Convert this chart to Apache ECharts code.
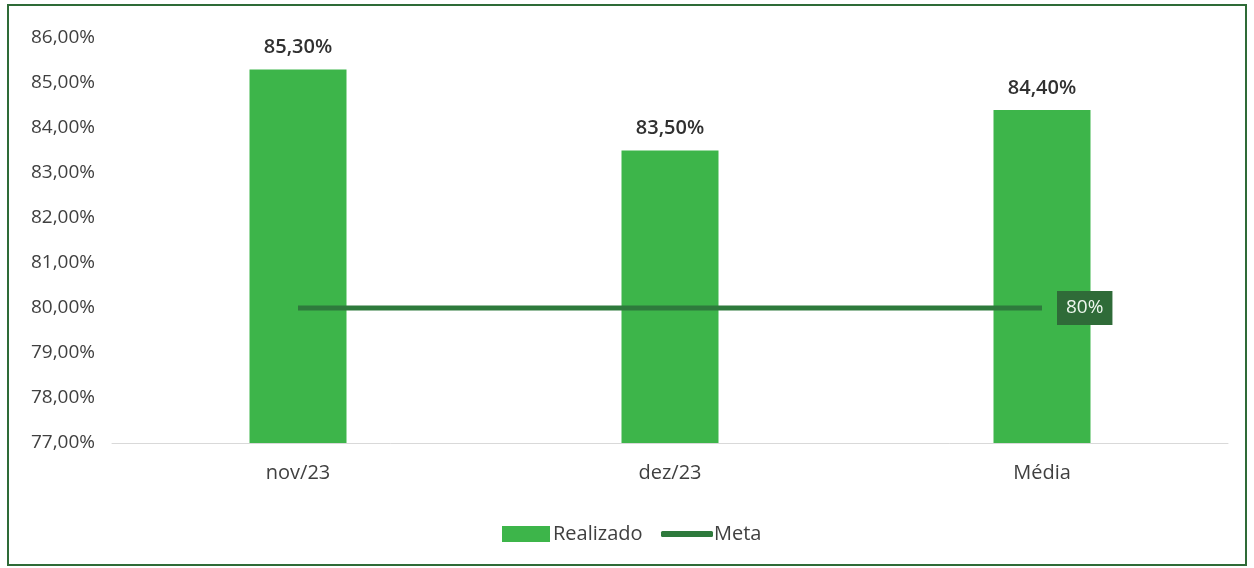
<!DOCTYPE html>
<html>
<head>
<meta charset="utf-8">
<script src="https://cdn.jsdelivr.net/npm/echarts@6/dist/echarts.min.js"></script>
<style>
  html, body { margin: 0; padding: 0; background: #fff; }
  #chart { width: 1254px; height: 568px; }
</style>
</head>
<body>
<div id="chart"></div>
<script>
const categories = ['nov/23', 'dez/23', 'Média'];
const realizado = [85.3, 83.5, 84.4];
const meta = [80, 80, 80];

const fmt = v => v.toFixed(2).replace('.', ',') + '%';
const font = '"Open Sans", sans-serif';

let chart = echarts.init(document.getElementById('chart'));
let option = {
  backgroundColor: '#fff',
  textStyle: { fontFamily: font },
  grid: { left: 112, right: 26, top: 38, bottom: 125 },
  legend: [
    {
      left: 497,
      top: 519,
      itemGap: 0,
      itemWidth: 48,
      itemHeight: 16,
      textStyle: { fontSize: 20, color: '#404040', fontFamily: font, padding: [0, 0, 0, -2] },
      data: [{ name: 'Realizado', icon: 'rect' }]
    },
    {
      left: 656,
      top: 519,
      itemWidth: 52,
      itemHeight: 6,
      textStyle: { fontSize: 20, color: '#404040', fontFamily: font, padding: [0, 0, 0, -4] },
      data: [{ name: 'Meta', icon: 'roundRect' }]
    }
  ],
  xAxis: {
    type: 'category',
    data: categories,
    axisLine: { lineStyle: { color: '#d9d9d9', width: 1 } },
    axisTick: { show: false },
    axisLabel: { fontSize: 20, color: '#404040', margin: 20, fontFamily: font }
  },
  yAxis: {
    type: 'value',
    min: 77,
    max: 86,
    interval: 1,
    splitLine: { show: false },
    axisLine: { show: false },
    axisTick: { show: false },
    axisLabel: { fontSize: 19, color: '#404040', formatter: fmt, margin: 17, fontFamily: font }
  },
  series: [
    {
      name: 'Realizado',
      type: 'bar',
      data: realizado,
      barWidth: 97,
      itemStyle: { color: '#3db54a' },
      label: {
        show: true,
        position: 'top',
        distance: 12,
        fontSize: 20,
        fontWeight: 600,
        color: '#303030',
        formatter: p => fmt(p.value)
      }
    },
    {
      name: 'Meta',
      type: 'line',
      data: meta,
      symbol: 'none',
      lineStyle: { color: '#2e7a3c', width: 5 },
      itemStyle: { color: '#2e7a3c' },
      endLabel: {
        show: true,
        formatter: p => p.value + '%',
        backgroundColor: '#2f6b38',
        color: '#eef7ee',
        fontSize: 19,
        padding: [8, 9, 7, 9],
        distance: 15
      }
    }
  ],
  graphic: [
    {
      type: 'rect',
      shape: { x: 8, y: 5, width: 1238, height: 560 },
      style: { fill: 'none', stroke: '#2e6b37', lineWidth: 2 },
      silent: true
    }
  ]
};
chart.setOption(option);
</script>
</body>
</html>
